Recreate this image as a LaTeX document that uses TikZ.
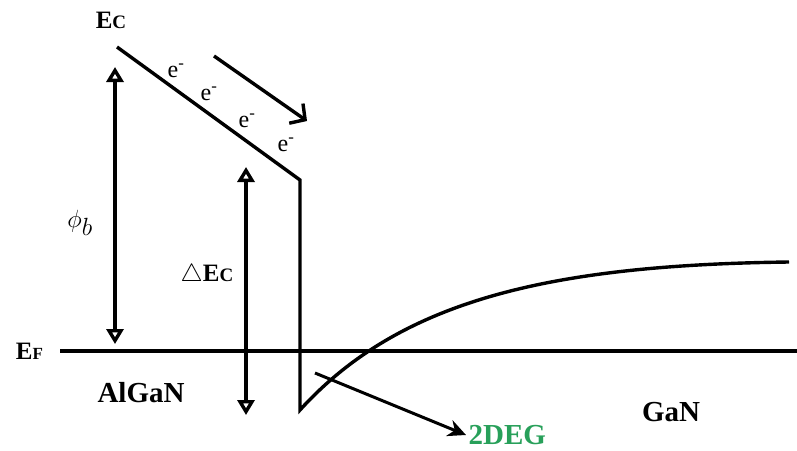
\documentclass[tikz,border=0pt]{standalone}
\usepackage{fontspec}
\setmainfont{Liberation Serif}
\usetikzlibrary{arrows.meta}
\definecolor{degreen}{RGB}{40,160,90}
\begin{document}
\begin{tikzpicture}[x=1pt, y=-1pt, line width=3.4pt,
    region/.style={font=\fontsize{29}{29}\selectfont\bfseries},
    level/.style={font=\fontsize{25}{25}\selectfont\bfseries},
    elec/.style={font=\fontsize{24}{24}\selectfont},
    gap/.style={{Triangle[open,length=15pt,width=17pt]}-{Triangle[open,length=15pt,width=17pt]}}]
    \useasboundingbox (0,0) rectangle (797,450);

    % band edges
    \coordinate (ectop) at (117,47);
    \coordinate (ecknee) at (300,180);
    \coordinate (ecwell) at (300,410);
    \coordinate (ecend) at (789,262);
    \draw (ectop) -- (ecknee) -- (ecwell) .. controls (400,300) and (550,265) .. (ecend);
    \coordinate (efl) at (60,351);
    \coordinate (efr) at (797,351);
    \draw (efl) -- (efr);

    % labels
    \node[level] (ec) at (111,20) {E{\fontsize{19}{19}\selectfont C}};
    \node[level, anchor=east] (ef) at (48,351) {E{\fontsize{17}{17}\selectfont F}};
    \node[level] (dec) at (207,275) {$\triangle$E{\fontsize{19}{19}\selectfont C}};
    \node[font=\fontsize{56}{56}\selectfont] (phib) at (80,223) {$\phi_b$};
    \node[region] (algan) at (141,393) {AlGaN};
    \node[region] (gan) at (671,412) {GaN};
    \node[region, text=degreen, anchor=west, inner sep=1pt] (deg) at (466,435) {2DEG};

    % electrons
    \node[elec] (e1) at (176,71) {e\textsuperscript{-}};
    \node[elec] (e2) at (209,94) {e\textsuperscript{-}};
    \node[elec] (e3) at (247,121) {e\textsuperscript{-}};
    \node[elec] (e4) at (286,145) {e\textsuperscript{-}};

    % arrows
    \coordinate (pb) at (115,344);
    \coordinate (pt) at (115,67);
    \draw[gap] (pb) -- (pt);
    \coordinate (dt) at (246,167);
    \coordinate (db) at (246,415);
    \draw[gap] (dt) -- (db);
    \coordinate (fs) at (214,56);
    \coordinate (fe) at (307,121);
    \draw[-{Straight Barb[length=11pt,width=24pt]}] (fs) -- (fe);
    \coordinate (ws) at (315,373);
    \draw[line width=3pt, -{Stealth[length=18pt,width=17pt]}] (ws) -- (deg.west);

\end{tikzpicture}
\end{document}
